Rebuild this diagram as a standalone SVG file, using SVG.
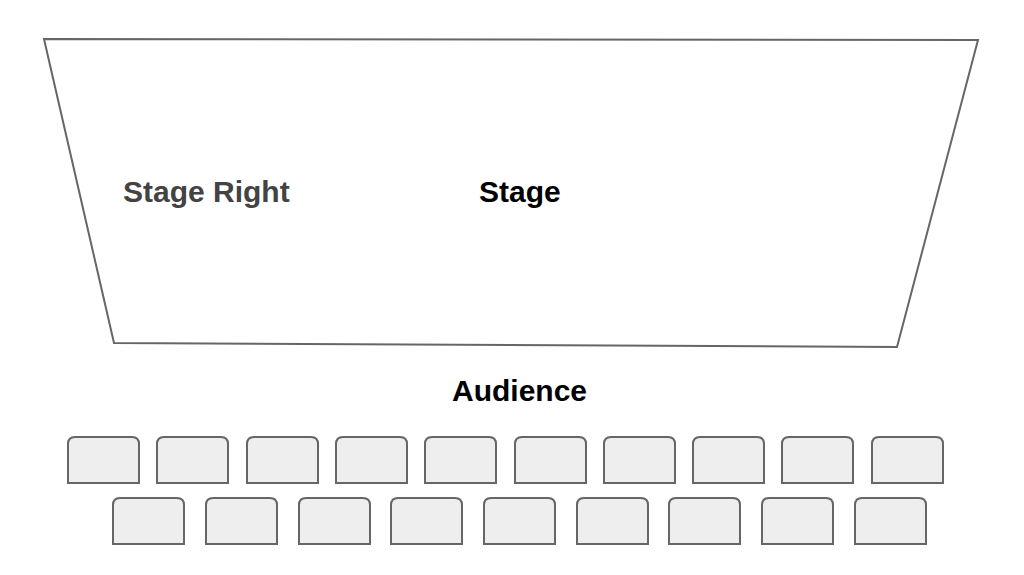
<svg xmlns="http://www.w3.org/2000/svg" width="1024" height="575" viewBox="0 0 1024 575">
<style>
.seat{fill:#eeeeee;stroke:#666666;stroke-width:2}
.stage{fill:#ffffff;stroke:#666666;stroke-width:2}
.lbl{font-family:"Liberation Sans",Arial,sans-serif;font-weight:bold;font-size:30px}
</style>
<defs>
<path id="seat" class="seat" d="M0,46 V7 Q0,0 7,0 H64 Q71,0 71,7 V46 Z"/>
</defs>
<rect width="1024" height="575" fill="#ffffff"/>
<g id="stage">
<polygon class="stage" points="44,39 978,40 897,347 114,343"/>
<text class="lbl" x="123" y="202" fill="#434343">Stage Right</text>
<text class="lbl" x="479" y="202" fill="#000000">Stage</text>
</g>
<g id="audience-label">
<text class="lbl" x="452" y="401" fill="#000000">Audience</text>
</g>
<g id="row1">
<use href="#seat" x="68" y="437"/>
<use href="#seat" x="157" y="437"/>
<use href="#seat" x="247" y="437"/>
<use href="#seat" x="336" y="437"/>
<use href="#seat" x="425" y="437"/>
<use href="#seat" x="515" y="437"/>
<use href="#seat" x="604" y="437"/>
<use href="#seat" x="693" y="437"/>
<use href="#seat" x="782" y="437"/>
<use href="#seat" x="872" y="437"/>
</g>
<g id="row2">
<use href="#seat" x="113" y="498"/>
<use href="#seat" x="206" y="498"/>
<use href="#seat" x="299" y="498"/>
<use href="#seat" x="391" y="498"/>
<use href="#seat" x="484" y="498"/>
<use href="#seat" x="577" y="498"/>
<use href="#seat" x="669" y="498"/>
<use href="#seat" x="762" y="498"/>
<use href="#seat" x="855" y="498"/>
</g>
</svg>
